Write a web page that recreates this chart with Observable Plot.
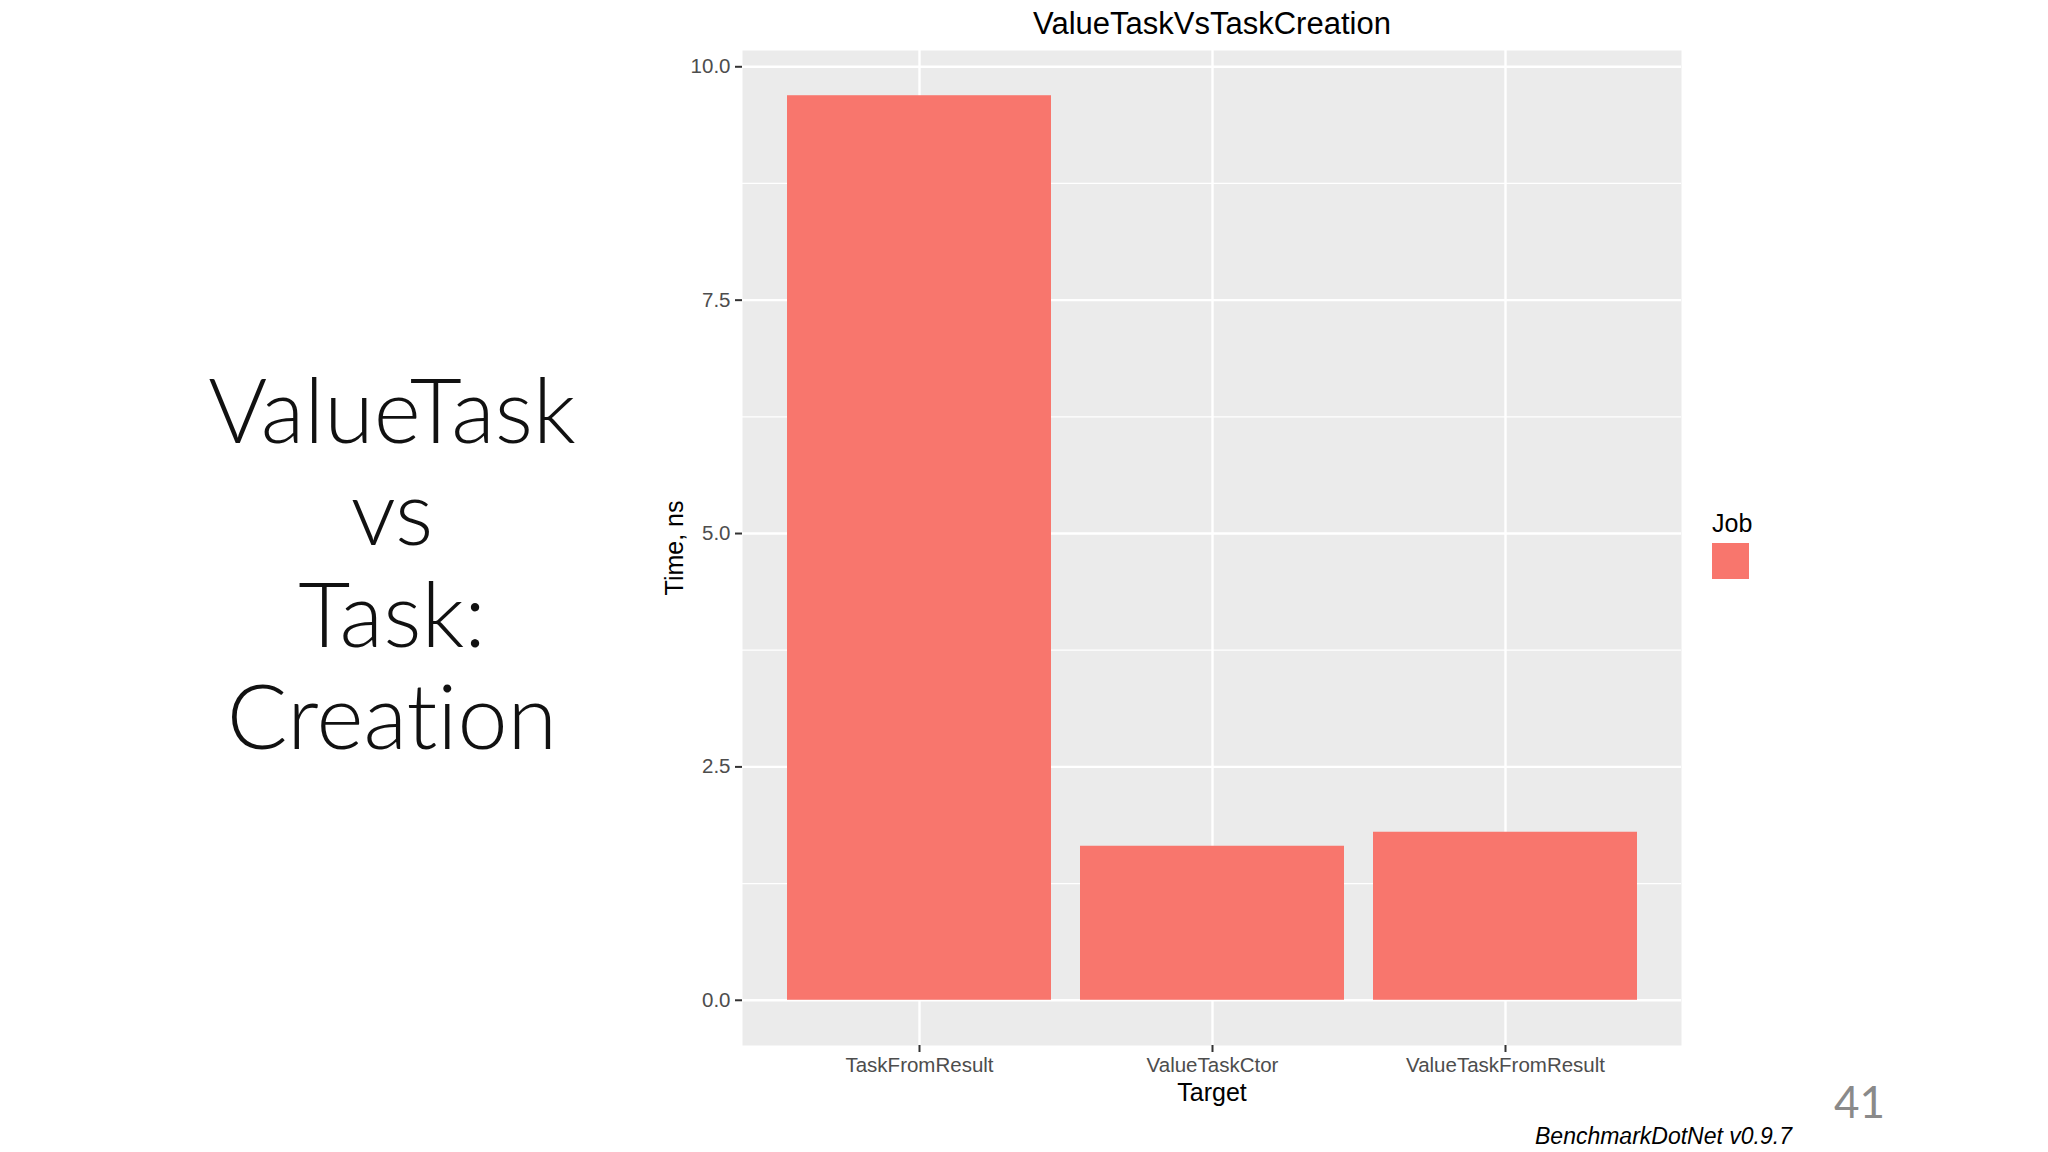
<!DOCTYPE html>
<html>
<head>
<meta charset="utf-8">
<script src="https://cdn.jsdelivr.net/npm/d3@7"></script>
<script src="https://cdn.jsdelivr.net/npm/@observablehq/plot@0.6"></script>
<style>
  html, body { margin: 0; padding: 0; background: #fff; }
  #wrap { position: relative; width: 2048px; height: 1152px; overflow: hidden; font-family: "Liberation Sans", Arial, sans-serif; }
  #wrap svg { position: absolute; left: 0; top: 0; }
  .abs { position: absolute; white-space: nowrap; }
  #slide { left: 92px; width: 600px; top: 357px; text-align: center; font-family: Lato, "Open Sans", sans-serif; font-weight: 300; font-size: 90px; line-height: 102px; color: #111; font-variant-ligatures: none; }
  #legTitle { left: 1712px; top: 508px; font-size: 25px; line-height: 30px; color: #000; }
  #legKey { left: 1712px; top: 543px; width: 37px; height: 36px; }
  #page { left: 1834px; top: 1075px; font-family: Lato, "Open Sans", sans-serif; font-size: 44px; line-height: 52px; color: #8a8a8a; }
  #caption { left: 1535px; top: 1122px; font-style: italic; font-size: 23px; line-height: 28px; color: #000; }
</style>
</head>
<body>
<div id="wrap"></div>
<script>
const categories = ["TaskFromResult", "ValueTaskCtor", "ValueTaskFromResult"];
const times = [9.69, 1.65, 1.80];
const yTicks = [0, 2.5, 5, 7.5, 10];
const yMinor = [1.25, 3.75, 6.25, 8.75];
const slideLines = ["ValueTask", "vs", "Task:", "Creation"];
const titleText = "ValueTaskVsTaskCreation";
const xLabel = "Target";
const yLabel = "Time, ns";
const legendTitle = "Job";
const pageNumber = "41";
const captionText = "BenchmarkDotNet v0.9.7";

const barColor = "#F8766D";
const data = categories.map((c, i) => ({target: c, time: times[i]}));
const maxV = d3.max(times);
const yDomain = [-0.05 * maxV, maxV * 1.05];

const chart = Plot.plot({
  width: 2048,
  height: 1152,
  marginLeft: 742,
  marginRight: 367,
  marginTop: 50,
  marginBottom: 107,
  style: {fontFamily: "'Liberation Sans', Arial, sans-serif", background: "transparent", overflow: "visible"},
  x: {type: "band", domain: categories, paddingInner: 0.1, paddingOuter: 0.15, axis: null},
  y: {domain: yDomain, axis: null},
  marks: [
    Plot.frame({fill: "#EBEBEB", stroke: null}),
    Plot.ruleY(yMinor, {stroke: "#fff", strokeWidth: 1.2}),
    Plot.ruleY(yTicks, {stroke: "#fff", strokeWidth: 2.4}),
    Plot.ruleX(categories, {x: d => d, stroke: "#fff", strokeWidth: 2.4}),
    Plot.barY(data, {x: "target", y: "time", fill: barColor}),
    Plot.axisY(yTicks, {
      tickFormat: d3.format(".1f"), fontSize: 20.5, color: "#4D4D4D", stroke: "#333",
      tickSize: 7, tickPadding: 5, strokeWidth: 2, label: null
    }),
    Plot.axisX(categories, {
      fontSize: 20.5, color: "#4D4D4D", stroke: "#333", tickSize: 7, tickPadding: 5, strokeWidth: 2, label: null
    }),
    Plot.text([titleText], {frameAnchor: "top", dy: -26, lineAnchor: "middle", fontSize: 31, fill: "#000"}),
    Plot.text([xLabel], {frameAnchor: "bottom", dy: 47, lineAnchor: "middle", fontSize: 25, fill: "#000"}),
    Plot.text([yLabel], {frameAnchor: "left", dx: -68, rotate: -90, textAnchor: "middle", lineAnchor: "middle", fontSize: 25, fill: "#000"})
  ]
});

const wrap = document.getElementById("wrap");
wrap.appendChild(chart);

const slide = document.createElement("div");
slide.id = "slide"; slide.className = "abs";
slide.innerHTML = slideLines.map(s => `<div>${s}</div>`).join("");
wrap.appendChild(slide);

const lt = document.createElement("div");
lt.id = "legTitle"; lt.className = "abs"; lt.textContent = legendTitle;
wrap.appendChild(lt);
const lk = document.createElement("div");
lk.id = "legKey"; lk.className = "abs"; lk.style.background = barColor;
wrap.appendChild(lk);

const pg = document.createElement("div");
pg.id = "page"; pg.className = "abs"; pg.textContent = pageNumber;
wrap.appendChild(pg);

const cap = document.createElement("div");
cap.id = "caption"; cap.className = "abs"; cap.textContent = captionText;
wrap.appendChild(cap);
</script>
</body>
</html>
